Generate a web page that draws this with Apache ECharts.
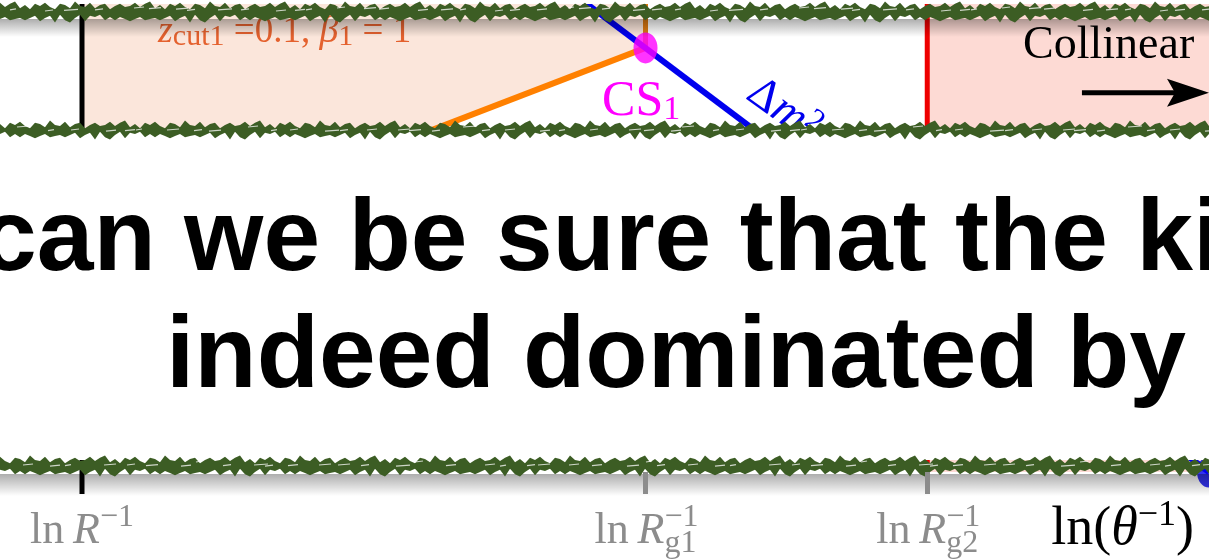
<!DOCTYPE html>
<html>
<head>
<meta charset="utf-8">
<script src="https://cdn.jsdelivr.net/npm/echarts@6/dist/echarts.min.js"></script>
<style>
  html, body { margin: 0; padding: 0; background: #ffffff; }
  #c { width: 1209px; height: 560px; }
</style>
</head>
<body>
<div id="c"></div>
<script>
// Lund-plane style sketch along ln(1/theta): scale positions and the lines that meet at CS1.
const tickValues = [1, 3, 4];                         // ln R^-1, ln R_g1^-1, ln R_g2^-1
const tickKeys = ['R', 'Rg1', 'Rg2'];
const supTickValues = [3, 4];                         // stacked "-1" over the g1 / g2 subscripts
const xRange = [1, 5];
const yRange = [0, 4.73];

const groomLine = [[1, 2.08], [3, 4.25]];             // orange z_cut line, rising to CS1
const groomEdge = [[3, 4.25], [3, 4.9]];              // orange vertical above CS1
const massLine = [[2.75, 4.78], [5, 0]];              // blue Delta m^2 line
const collinearEdge = [[4, 0], [4, 4.9]];             // red boundary at ln R_g2^-1
const leftEdge = [[1, -0.22], [1, 4.73]];             // black boundary at ln R^-1, through its tick
const collinearBand = [4, 5];
const cs1Point = [[3, 4.25]];
const endPoint = [[5, 0]];

const serif = '"Liberation Serif", "DejaVu Serif", serif';
const grey = '#8c8c8c';

function tickLabel(v) {
  const i = tickValues.indexOf(v);
  if (i < 0) return '';
  const k = tickKeys[i];
  if (k === 'R') return '{t|ln\u2009}{i|R}{sup|\u22121}';
  if (k === 'Rg1') return '{t|ln\u2009}{i|R}{sub|g1}';
  return '{t|ln\u2009}{i|R}{sub|g2}';
}

const option = {
  animation: false,
  backgroundColor: '#ffffff',
  grid: { left: 82, right: 0, top: 0, bottom: 87, containLabel: false },
  xAxis: [{
    type: 'value', min: xRange[0], max: xRange[1], interval: 1, z: 110,
    splitLine: { show: false },
    axisLine: { show: false, onZero: false },
    axisTick: { show: true, inside: false, customValues: supTickValues, length: 22, lineStyle: { color: grey, width: 5 } },
    axisLabel: {
      show: true, customValues: tickValues, margin: 30, formatter: tickLabel,
      rich: {
        t: { fontFamily: serif, fontSize: 44, color: grey, lineHeight: 58 },
        i: { fontFamily: serif, fontStyle: 'italic', fontSize: 44, color: grey, lineHeight: 58 },
        sup: { fontFamily: serif, fontSize: 32, color: grey, lineHeight: 32, verticalAlign: 'top' },
        sub: { fontFamily: serif, fontSize: 32, color: grey, lineHeight: 32, verticalAlign: 'bottom' }
      }
    },
    name: '{a|ln(}{th|\u03b8}{sup|\u22121}{a|)}',
    nameLocation: 'end', nameGap: -15,
    nameTextStyle: {
      align: 'right', verticalAlign: 'top', padding: [26, 0, 0, 0],
      rich: {
        a: { fontFamily: serif, fontSize: 54, color: '#000', lineHeight: 64 },
        th: { fontFamily: serif, fontStyle: 'italic', fontSize: 54, color: '#000', lineHeight: 64 },
        sup: { fontFamily: serif, fontSize: 36, color: '#000', lineHeight: 36, verticalAlign: 'top' }
      }
    }
  }, {
    // superscripts of the g1 / g2 scale labels, stacked over the subscripts
    type: 'value', min: xRange[0], max: xRange[1], interval: 1, position: 'bottom', z: 110,
    splitLine: { show: false }, axisLine: { show: false, onZero: false }, axisTick: { show: false },
    axisLabel: {
      show: true, customValues: supTickValues, margin: 30, align: 'left', padding: [0, 0, 0, 19],
      formatter: () => '{sup|\u22121}',
      rich: { sup: { fontFamily: serif, fontSize: 32, color: grey, lineHeight: 32 } }
    }
  }],
  yAxis: {
    type: 'value', min: yRange[0], max: yRange[1],
    splitLine: { show: false },
    axisLine: { show: false },
    axisTick: { show: false }, axisLabel: { show: false }
  },
  series: [
    {
      name: 'groomed region', type: 'line', data: groomLine, symbol: 'none', z: 2,
      lineStyle: { color: '#ff8000', width: 6 },
      areaStyle: { origin: 'end', color: '#fbe6db', opacity: 1 },
      markArea: {
        silent: true,
        itemStyle: { color: '#fddad4' },
        data: [[{ xAxis: collinearBand[0], yAxis: 0 }, { xAxis: collinearBand[1], yAxis: yRange[1] }]]
      }
    },
    { name: 'groom edge', type: 'line', data: groomEdge, symbol: 'none', z: 3,
      lineStyle: { color: '#dd7a12', width: 5 } },
    { name: 'collinear edge', type: 'line', data: collinearEdge, symbol: 'none', z: 3,
      lineStyle: { color: '#ee0000', width: 5 } },
    { name: 'left edge', type: 'line', data: leftEdge, symbol: 'none', z: 3, clip: false,
      lineStyle: { color: '#000000', width: 5 } },
    { name: 'mass line', type: 'line', data: massLine, symbol: 'none', z: 4,
      lineStyle: { color: '#0000ee', width: 6 } },
    { name: 'CS1', type: 'scatter', data: cs1Point, symbol: 'circle', symbolSize: [24, 31], z: 5, clip: false,
      itemStyle: { color: '#ff00ff' } },
    { name: 'end', type: 'scatter', data: endPoint, symbol: 'circle', symbolSize: [24, 31], z: 5, clip: false,
      itemStyle: { color: '#0000ee' } }
  ]
};

const chart = echarts.init(document.getElementById('c'));
chart.setOption(option);

const px = (p) => chart.convertToPixel({ gridIndex: 0 }, p);

// annotation anchors in data coordinates
const zcutAt = [1.27, 4.21];
const cs1LabelAt = [2.846, 3.46];
const massLabelAt = [3.49, 3.62];
const collinearAt = [4.34, 4.04];
const arrowFrom = [4.549, 3.8];
const arrowTo = [5.0, 3.8];

// rough grass-like band edges
const edgeJitter = [0, 3, -1, 2, 4, -2, 1, -3, 2, 0, 3, -1, -3, 2, 1, -2, 4, 0, -1, 3, -2, 1, 2, -3, 0, 2, -1];
function roughBand(yTop, yBot, amp, phase) {
  const pts = [];
  const n = edgeJitter.length;
  let k = phase;
  for (let x = -5; x <= 1215; x += 5) { pts.push([x, yTop - edgeJitter[k % n] * amp]); k += 1; }
  for (let x = 1215; x >= -5; x -= 5) { k += 4; pts.push([x, yBot + edgeJitter[k % n] * amp]); }
  return pts;
}
// pale flecks along the upper fringe of a band
function flecks(yTop, phase) {
  const out = [];
  const n = edgeJitter.length;
  for (let i = 0, x = 10 + phase; x < 1209; i++, x += 23 + 4 * edgeJitter[(i + phase) % n]) {
    const len = 6 + 2 * Math.abs(edgeJitter[(i * 2 + phase) % n]);
    const y = yTop + 2 + (edgeJitter[(i * 3 + phase) % n] + 3) * 0.6;
    out.push({ type: 'line', z: 102, shape: { x1: x, y1: y, x2: x + len, y2: y - 1 },
      style: { stroke: 'rgba(255,255,255,0.75)', lineWidth: 1.2 } });
  }
  return out;
}
function shadow(y, h) {
  return {
    type: 'rect', z: 100, shape: { x: 0, y: y, width: 1209, height: h },
    style: { fill: new echarts.graphic.LinearGradient(0, 0, 0, 1, [
      { offset: 0, color: 'rgba(0,0,0,0.32)' }, { offset: 1, color: 'rgba(0,0,0,0)' }]) }
  };
}
const green = '#3c5d24';
const bannerFont = 'bold 102px "Liberation Sans", Arial, sans-serif';

const a1 = px(zcutAt), a2 = px(cs1LabelAt), a3 = px(massLabelAt), a4 = px(collinearAt);
const f0 = px(arrowFrom), f1 = px(arrowTo);
const orangeRed = '#e4612e';

chart.setOption({
  graphic: [
    // chart annotations
    { type: 'text', z: 50, x: a1[0], y: a1[1], style: {
        text: '{zi|z}{sb|cut1}{n| =0.1, }{zi|\u03b2}{sb|1}{n| = 1}',
        verticalAlign: 'bottom', align: 'left',
        rich: {
          zi: { fontFamily: serif, fontStyle: 'italic', fontSize: 38, fill: orangeRed, lineHeight: 40 },
          n: { fontFamily: serif, fontSize: 37, fill: orangeRed, lineHeight: 40 },
          sb: { fontFamily: serif, fontSize: 30, fill: orangeRed, lineHeight: 30, verticalAlign: 'bottom' }
        } } },
    { type: 'text', z: 50, x: a2[0], y: a2[1], style: {
        text: '{m|CS}{s|1}', verticalAlign: 'bottom', align: 'left',
        rich: {
          m: { fontFamily: serif, fontSize: 50, fill: '#ff00ff', lineHeight: 50 },
          s: { fontFamily: serif, fontSize: 34, fill: '#ff00ff', lineHeight: 40, verticalAlign: 'bottom' }
        } } },
    { type: 'text', z: 50, x: a3[0], y: a3[1], rotation: -0.62, style: {
        text: '{m|\u0394}{i|m}{s|2}', verticalAlign: 'middle', align: 'center',
        rich: {
          m: { fontFamily: serif, fontSize: 46, fill: '#0000ee', lineHeight: 50 },
          i: { fontFamily: serif, fontStyle: 'italic', fontSize: 46, fill: '#0000ee', lineHeight: 50 },
          s: { fontFamily: serif, fontSize: 32, fill: '#0000ee', lineHeight: 32, verticalAlign: 'top' }
        } } },
    { type: 'text', z: 50, x: a4[0], y: a4[1], style: {
        text: 'Collinear', font: '46px ' + serif, fill: '#000', verticalAlign: 'bottom', align: 'left' } },
    { type: 'line', z: 50, shape: { x1: f0[0], y1: f0[1], x2: f1[0] - 30, y2: f1[1] },
      style: { stroke: '#000', lineWidth: 5 } },
    { type: 'polygon', z: 50, shape: { points: [[f1[0] - 42, f1[1] - 14], [f1[0], f1[1]], [f1[0] - 42, f1[1] + 14], [f1[0] - 34, f1[1]]] },
      style: { fill: '#000' } },

    // banner overlay
    { type: 'rect', z: 99, shape: { x: 0, y: 0, width: 1209, height: 4 }, style: { fill: '#ffffff' } },
    shadow(19, 18),
    { type: 'polygon', z: 101, shape: { points: roughBand(6, 18, 1.1, 0) }, style: { fill: green } },
    { type: 'rect', z: 99, shape: { x: 0, y: 130, width: 1209, height: 330 }, style: { fill: '#ffffff' } },
    { type: 'polygon', z: 101, shape: { points: roughBand(125, 135, 1.1, 5) }, style: { fill: green } },
    shadow(474, 22),
    { type: 'polygon', z: 101, shape: { points: roughBand(460, 472, 1.1, 9) }, style: { fill: green } },
    ...flecks(6, 0), ...flecks(125, 7), ...flecks(460, 13),
    { type: 'text', z: 102, x: -20, y: 242, style: {
        text: 'can we be sure that the ki', font: bannerFont, fill: '#000', verticalAlign: 'middle', align: 'left' } },
    { type: 'text', z: 102, x: 166, y: 359, style: {
        text: 'indeed dominated by', font: bannerFont, fill: '#000', verticalAlign: 'middle', align: 'left' } }
  ]
});
</script>
</body>
</html>
